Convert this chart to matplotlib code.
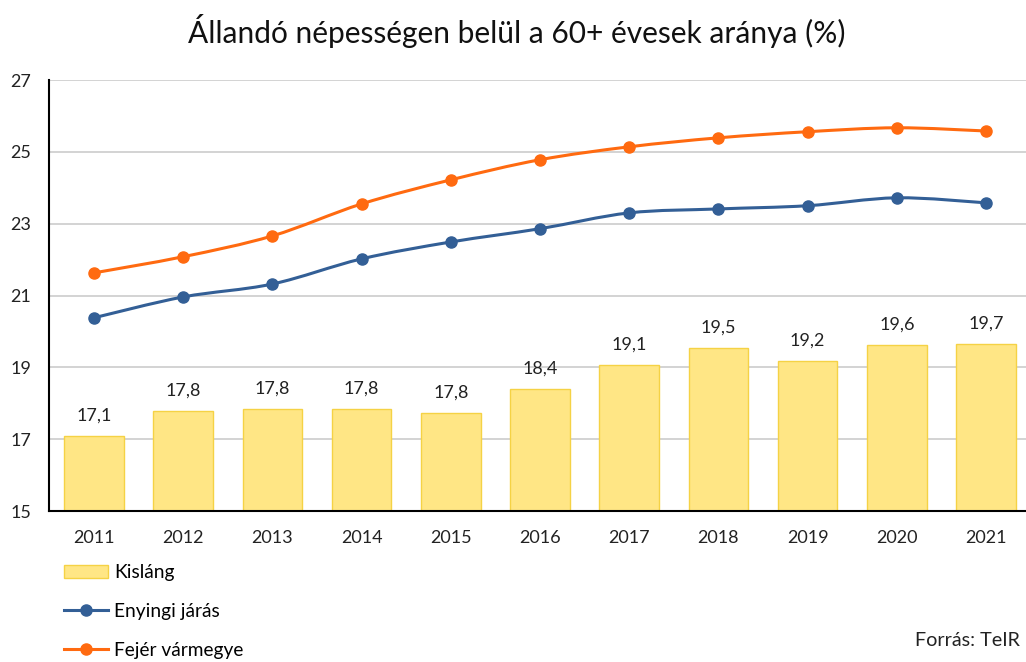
import matplotlib
matplotlib.use("Agg")
import matplotlib.pyplot as plt
from matplotlib.path import Path
from matplotlib.patches import PathPatch
from matplotlib.lines import Line2D
from matplotlib.patches import Patch

plt.rcParams['font.family'] = ['Lato', 'DejaVu Sans']

years = ["2011", "2012", "2013", "2014", "2015", "2016", "2017", "2018", "2019", "2020", "2021"]
kislang = [17.1, 17.8, 17.8, 17.8, 17.8, 18.4, 19.1, 19.5, 19.2, 19.6, 19.7]
kislang_bar = [17.09, 17.79, 17.84, 17.84, 17.73, 18.40, 19.07, 19.54, 19.18, 19.62, 19.65]
enyingi = [20.38, 20.96, 21.32, 22.02, 22.49, 22.86, 23.30, 23.41, 23.50, 23.72, 23.58]
fejer = [21.63, 22.08, 22.66, 23.55, 24.22, 24.78, 25.14, 25.39, 25.56, 25.67, 25.58]
yticks = [15, 17, 19, 21, 23, 25, 27]

C_BAR = "#FFE685"
C_BAR_EDGE = "#F5D245"
C_BLUE = "#335F96"
C_ORANGE = "#FF6A10"

W, H = 1026, 662
fig = plt.figure(figsize=(W / 100, H / 100), dpi=100)
ax = fig.add_axes([49.4 / W, 1 - 511 / H, 981.2 / W, 431 / H])

x = list(range(len(years)))
ax.bar(x, [v - 15 for v in kislang_bar], bottom=15, width=0.67, color=C_BAR,
       edgecolor=C_BAR_EDGE, linewidth=1.0, zorder=2)
for xi, b, lab in zip(x, kislang_bar, kislang):
    ax.annotate(f"{lab:.1f}".replace(".", ","), (xi, b), xytext=(0, 11),
                textcoords="offset points", ha="center", va="baseline",
                fontsize=13, color="#222222")


def smooth(xs, ys):
    verts = [(xs[0], ys[0])]
    codes = [Path.MOVETO]
    n = len(xs)
    for i in range(n - 1):
        p0 = (xs[i - 1], ys[i - 1]) if i > 0 else (xs[i], ys[i])
        p1 = (xs[i], ys[i])
        p2 = (xs[i + 1], ys[i + 1])
        p3 = (xs[i + 2], ys[i + 2]) if i + 2 < n else p2
        c1 = (p1[0] + (p2[0] - p0[0]) / 6, p1[1] + (p2[1] - p0[1]) / 6)
        c2 = (p2[0] - (p3[0] - p1[0]) / 6, p2[1] - (p3[1] - p1[1]) / 6)
        verts += [c1, c2, p2]
        codes += [Path.CURVE4] * 3
    return Path(verts, codes)


for ys, c in [(enyingi, C_BLUE), (fejer, C_ORANGE)]:
    ax.add_patch(PathPatch(smooth(x, ys), facecolor="none", edgecolor=c,
                           linewidth=2.2, zorder=3))
    ax.plot(x, ys, linestyle="none", marker="o", markersize=8, color=c, zorder=4)

ax.set_xlim(-0.5, len(years) - 0.5)
ax.set_ylim(15, 27)
ax.set_yticks(yticks)
ax.set_yticklabels([str(t) for t in yticks])
ax.set_xticks(x)
ax.set_xticklabels(years)
ax.grid(axis="y", color="#D0D0D0", linewidth=1.3, zorder=0)
ax.set_axisbelow(True)
for s in ["top", "right"]:
    ax.spines[s].set_visible(False)
ax.spines["left"].set_linewidth(1.5)
ax.spines["bottom"].set_linewidth(1.5)
ax.tick_params(axis="both", length=0, labelsize=13, colors="#222222")
ax.tick_params(axis="x", pad=13.5)
ax.tick_params(axis="y", pad=13)

fig.text(517 / W, 1 - 31 / H, "Állandó népességen belül a 60+ évesek aránya (%)",
         ha="center", va="center", fontsize=21.5, color="#111111")

handles = [Patch(facecolor=C_BAR, edgecolor=C_BAR_EDGE, linewidth=1.0),
           Line2D([], [], color=C_BLUE, linewidth=2.2, marker="o", markersize=8),
           Line2D([], [], color=C_ORANGE, linewidth=2.2, marker="o", markersize=8)]
fig.legend(handles, ["Kisláng", "Enyingi járás", "Fejér vármegye"],
           loc="upper left", bbox_to_anchor=(64 / W, 1 - 564 / H), frameon=False,
           fontsize=13.8, handlelength=2.3, labelspacing=1.15, handletextpad=0.3,
           borderaxespad=0, borderpad=0)

fig.text(915 / W, 1 - 646 / H, "Forrás: TeIR", ha="left", va="baseline",
         fontsize=14.2, color="#222222")

fig.savefig("out.png", dpi=100)
